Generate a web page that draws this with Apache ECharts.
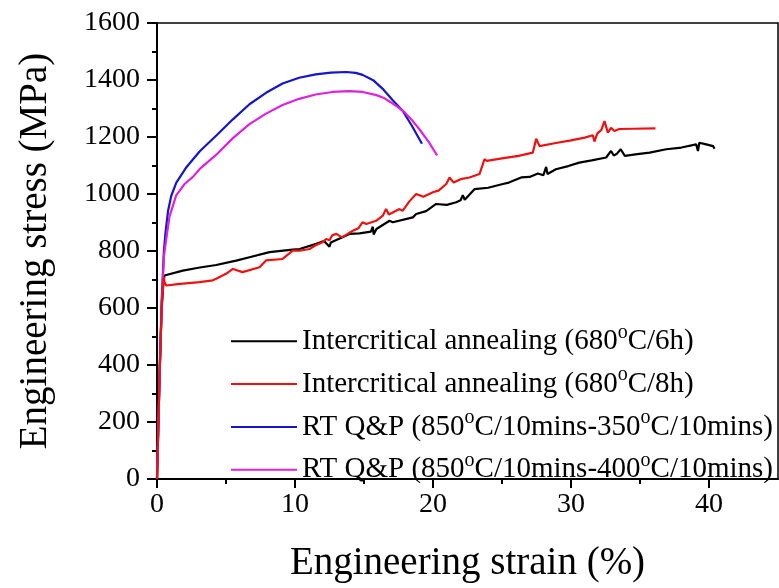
<!DOCTYPE html>
<html>
<head>
<meta charset="utf-8">
<script src="https://cdn.jsdelivr.net/npm/echarts@6/dist/echarts.min.js"></script>
<style>
html,body{margin:0;padding:0;background:#fff;}
#chart{width:779px;height:588px;}
</style>
</head>
<body>
<div id="chart"></div>
<script>
// ---- data ----
const seriesNames = [
  'Intercritical annealing (680°C/6h)',
  'Intercritical annealing (680°C/8h)',
  'RT Q&P (850°C/10mins-350°C/10mins)',
  'RT Q&P (850°C/10mins-400°C/10mins)'
];
const seriesColors = ['#000000', '#ee1111', '#1515cc', '#dd22dd'];

// Intercritical annealing 680C/6h
const strain6h = [0, 0.18, 0.33, 0.45, 0.54, 0.62, 1.87, 3.1, 4.29, 5.74, 6.7, 8.15, 9.84, 10.33, 11.54, 12.1, 12.5, 12.6, 13.95, 14.67, 15.5, 15.64, 15.7, 15.9, 16.85, 17.09, 18.54, 18.78, 19.5, 20.23, 21.0, 21.68, 22.0, 22.16, 22.3, 23.0, 24.0, 25.06, 25.5, 26.39, 27.0, 27.6, 28.0, 28.2, 28.3, 28.9, 29.8, 30.6, 31.5, 32.55, 32.9, 33.1, 33.3, 33.6, 33.9, 34.8, 35.7, 36.9, 38.0, 39.07, 39.2, 39.3, 39.8, 40.3, 40.4];
const stress6h = [0, 353, 587, 680, 714, 716, 731, 742, 751, 766, 778, 796, 805, 807, 825, 835, 815, 830, 860, 862, 868, 885, 858, 877, 906, 901, 918, 930, 940, 965, 962, 971, 978, 996, 980, 1017, 1022, 1035, 1040, 1058, 1060, 1072, 1066, 1095, 1070, 1087, 1098, 1110, 1118, 1128, 1151, 1135, 1140, 1157, 1134, 1140, 1145, 1157, 1163, 1174, 1151, 1180, 1174, 1168, 1159];

// Intercritical annealing 680C/8h
const strain8h = [0, 0.2, 0.35, 0.49, 0.55, 0.67, 1.5, 3.08, 4.04, 4.29, 5.0, 5.5, 6.2, 7.43, 7.9, 9.1, 9.84, 10.33, 11.05, 11.5, 12.0, 12.26, 12.5, 12.7, 13.0, 13.4, 14.19, 14.6, 14.9, 15.16, 15.88, 16.36, 16.6, 16.8, 17.57, 17.8, 18.3, 18.78, 19.3, 19.99, 20.4, 20.96, 21.2, 21.5, 22.0, 22.64, 23.37, 23.73, 23.9, 25.0, 26.2, 27.23, 27.48, 27.72, 28.8, 30.0, 31.0, 31.58, 31.7, 31.9, 32.2, 32.43, 32.67, 32.9, 33.15, 33.5, 34.5, 36.12];
const stress8h = [0, 390, 620, 708, 690, 679, 684, 691, 697, 703, 720, 737, 726, 743, 767, 772, 801, 801, 807, 820, 831, 842, 838, 855, 860, 848, 871, 880, 901, 895, 906, 924, 947, 928, 947, 941, 975, 1000, 990, 1006, 1012, 1035, 1058, 1040, 1052, 1058, 1070, 1122, 1116, 1125, 1134, 1145, 1194, 1168, 1178, 1188, 1198, 1206, 1184, 1212, 1225, 1256, 1215, 1232, 1221, 1228, 1229, 1230];

// RT Q&P 850C/10mins-350C/10mins
const strainQP350 = [0, 0.2, 0.35, 0.5, 0.62, 0.8, 1.03, 1.4, 2.1, 3.1, 4.3, 5.5, 6.7, 7.9, 9.1, 10.3, 11.5, 12.6, 13.7, 14.4, 14.9, 15.7, 16.4, 17.1, 17.8, 18.5, 19.2];
const stressQP350 = [0, 390, 640, 800, 866, 940, 993, 1040, 1092, 1150, 1205, 1262, 1315, 1355, 1388, 1408, 1420, 1426, 1428, 1425, 1418, 1398, 1367, 1328, 1292, 1237, 1176];

// RT Q&P 850C/10mins-400C/10mins
const strainQP400 = [0, 0.2, 0.35, 0.5, 0.67, 0.9, 1.39, 2.0, 2.6, 3.1, 4.3, 5.5, 6.7, 7.9, 9.1, 10.3, 11.5, 12.7, 13.95, 14.9, 15.9, 16.4, 16.9, 17.4, 17.9, 18.5, 19.0, 19.7, 20.3];
const stressQP400 = [0, 380, 620, 780, 842, 920, 995, 1035, 1060, 1088, 1138, 1196, 1245, 1282, 1312, 1334, 1349, 1358, 1361, 1358, 1347, 1338, 1323, 1307, 1289, 1258, 1228, 1182, 1135];

// axis ticks
const xMajorTicks = [0, 10, 20, 30, 40];
const xMinorTicks = [5, 15, 25, 35];

const curves = [
  [strain6h, stress6h],
  [strain8h, stress8h],
  [strainQP350, stressQP350],
  [strainQP400, stressQP400]
];

const FONT = 'Liberation Serif';

function richName(name) {
  const parts = name.split('°');
  let out = '';
  parts.forEach(function (p, i) {
    if (i > 0) out += '{s|o}';
    if (p.length) out += '{t|' + p.replace(/[{}|]/g, '') + '}';
  });
  return out;
}

const chart = echarts.init(document.getElementById('chart'), null, {renderer: 'canvas'});

const series = curves.map(function (c, i) {
  return {
    name: seriesNames[i],
    type: 'line',
    xAxisIndex: 0,
    yAxisIndex: 0,
    data: c[0].map(function (x, k) { return [x, c[1][k]]; }),
    showSymbol: false,
    symbol: 'none',
    smooth: false,
    lineStyle: {color: seriesColors[i], width: 2.2},
    itemStyle: {color: seriesColors[i]},
    emphasis: {disabled: true},
    animation: false,
    z: 3 + (i === 1 ? 1 : 0)
  };
});

chart.setOption({
  animation: false,
  backgroundColor: '#ffffff',
  grid: {
    left: 157, right: 1, top: 23, bottom: 107,
    show: true, borderColor: '#000', borderWidth: 1.5, backgroundColor: 'transparent'
  },
  legend: {
    orient: 'vertical',
    left: 231,
    top: 322.3,
    padding: 0,
    itemWidth: 66,
    itemHeight: 2,
    itemGap: 4.8,
    icon: 'rect',
    selectedMode: false,
    data: seriesNames,
    formatter: function (name) { return richName(name); },
    textStyle: {
      color: '#000',
      rich: {
        t: {fontFamily: FONT, fontSize: 29, color: '#000', lineHeight: 30},
        s: {fontFamily: FONT, fontSize: 20, color: '#000', lineHeight: 12, padding: [0, 0, 18, 0]}
      }
    }
  },
  xAxis: [{
    type: 'value',
    position: 'bottom',
    min: 0, max: 45, interval: 10,
    name: 'Engineering strain (%)',
    nameLocation: 'middle',
    nameGap: 65,
    nameTextStyle: {fontFamily: FONT, fontSize: 39, color: '#000'},
    axisLine: {show: true, onZero: false, lineStyle: {color: '#000', width: 2}},
    axisTick: {show: true, inside: false, length: 9, lineStyle: {color: '#000', width: 2}, customValues: xMajorTicks},
    axisLabel: {show: true, margin: 12, fontFamily: FONT, fontSize: 28, color: '#000', customValues: xMajorTicks,
      formatter: function (v) { return String(v); }},
    splitLine: {show: false},
    minorTick: {show: false}
  }, {
    type: 'value',
    position: 'bottom',
    min: 0, max: 45, interval: 5,
    axisLine: {show: false, onZero: false},
    axisTick: {show: true, inside: false, length: 5, lineStyle: {color: '#000', width: 2}, customValues: xMinorTicks},
    axisLabel: {show: false},
    splitLine: {show: false}
  }],
  yAxis: {
    type: 'value',
    min: 0, max: 1600, interval: 200,
    name: 'Engineering stress (MPa)',
    nameLocation: 'middle',
    nameGap: 102,
    nameTextStyle: {fontFamily: FONT, fontSize: 39, color: '#000'},
    axisLine: {show: true, onZero: false, lineStyle: {color: '#000', width: 2}},
    axisTick: {show: true, inside: false, length: 10, lineStyle: {color: '#000', width: 2}},
    minorTick: {show: true, splitNumber: 2, length: 5, lineStyle: {color: '#000', width: 2}},
    axisLabel: {margin: 17, fontFamily: FONT, fontSize: 28, color: '#000',
      formatter: function (v) { return String(v); }},
    splitLine: {show: false},
    minorSplitLine: {show: false}
  },
  series: series
});
</script>
</body>
</html>
